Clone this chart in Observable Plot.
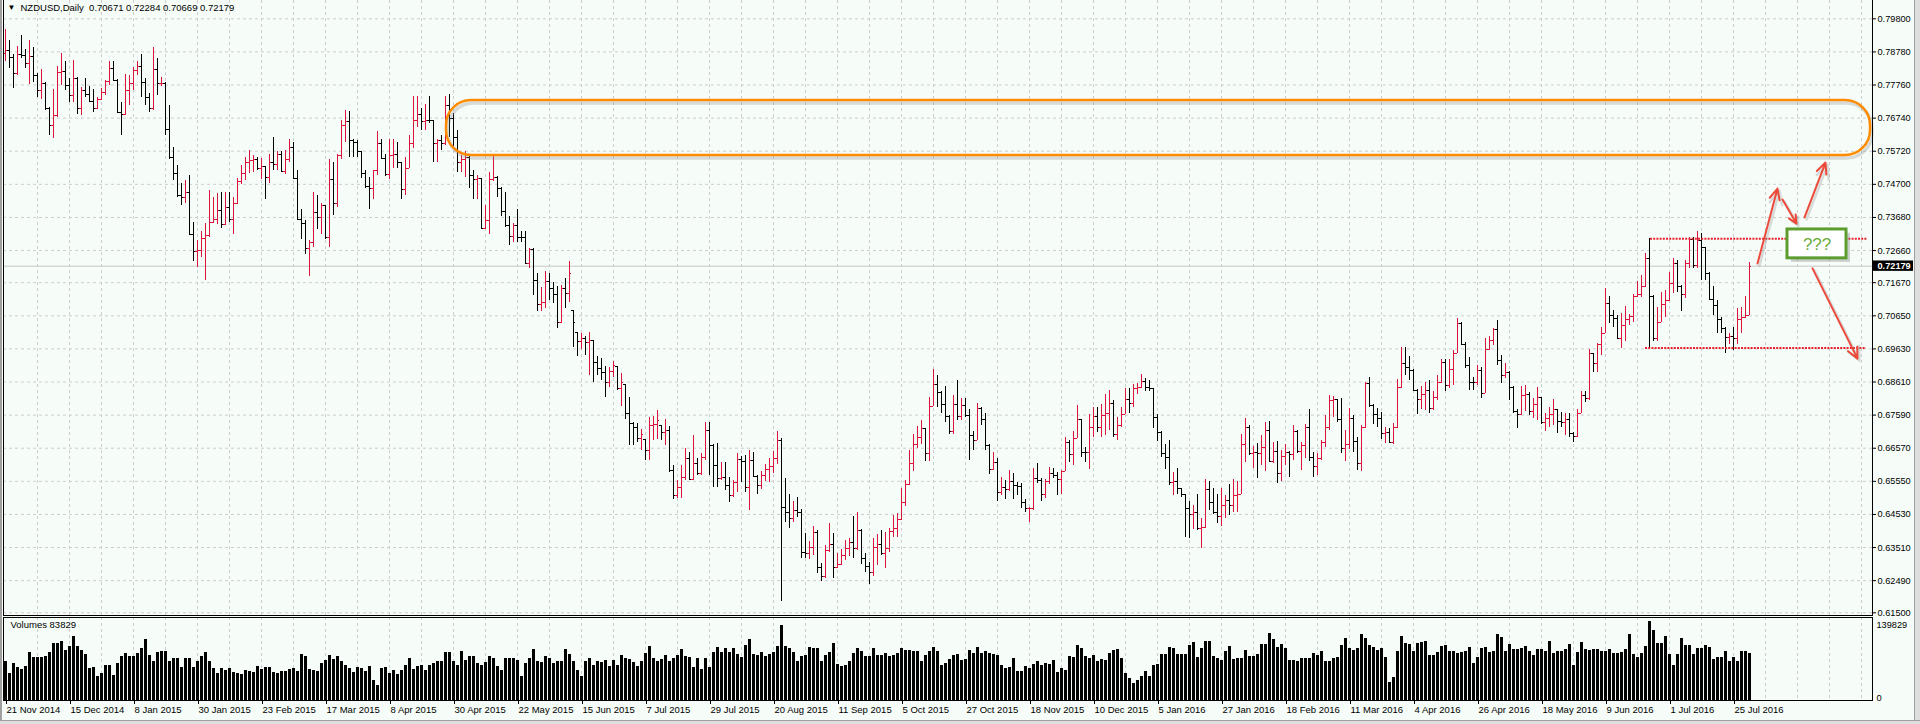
<!DOCTYPE html>
<html><head><meta charset="utf-8">
<script src="https://cdn.jsdelivr.net/npm/d3@7"></script>
<script src="https://cdn.jsdelivr.net/npm/@observablehq/plot@0.6"></script>
<style>
html,body{margin:0;padding:0;background:#e4e4e4;}
#wrap{position:relative;width:1920px;height:724px;overflow:hidden;background:#f6fdf9;}
#wrap svg{display:block;}
#edgeR{position:absolute;left:1914px;top:0;width:6px;height:724px;background:#dedede;border-left:1px solid #a0a0a0;}
#edgeB{position:absolute;left:0;top:720px;width:1920px;height:4px;background:#dedede;border-top:1px solid #a0a0a0;}
#edgeL{position:absolute;left:0;top:0;width:2px;height:720px;background:#a0a0a0;}
</style></head><body><div id="wrap"></div>
<script>
const symbol = "NZDUSD", timeframe = "Daily";
const opens = [.7872,.7882,.7861,.7810,.7870,.7867,.7841,.7864,.7805,.7758,
.7782,.7704,.7650,.7681,.7815,.7818,.7775,.7743,.7797,.7704,
.7758,.7747,.7725,.7704,.7730,.7754,.7787,.7826,.7790,.7691,
.7685,.7758,.7780,.7821,.7833,.7784,.7737,.7704,.7823,.7780,
.7782,.7639,.7552,.7502,.7437,.7429,.7444,.7316,.7264,.7266,
.7302,.7312,.7352,.7361,.7389,.7345,.7400,.7361,.7410,.7480,
.7502,.7536,.7543,.7545,.7520,.7525,.7491,.7536,.7530,.7563,
.7510,.7547,.7585,.7487,.7362,.7348,.7271,.7290,.7384,.7367,
.7405,.7307,.7484,.7410,.7560,.7652,.7665,.7605,.7600,.7570,
.7502,.7463,.7458,.7512,.7595,.7549,.7499,.7559,.7563,.7536,
.7453,.7520,.7595,.7668,.7684,.7663,.7668,.7668,.7595,.7605,
.7595,.7713,.7672,.7615,.7536,.7545,.7554,.7497,.7484,.7487,
.7334,.7360,.7484,.7490,.7458,.7387,.7343,.7309,.7343,.7307,
.7305,.7225,.7268,.7174,.7100,.7105,.7170,.7148,.7130,.7045,
.7148,.7133,.7081,.7015,.6986,.6994,.6984,.6989,.6922,.6902,
.6890,.6861,.6892,.6909,.6840,.6853,.6763,.6734,.6722,.6686,
.6685,.6650,.6727,.6730,.6727,.6707,.6712,.6588,.6511,.6537,
.6566,.6624,.6561,.6609,.6578,.6628,.6712,.6665,.6604,.6563,
.6566,.6542,.6511,.6552,.6621,.6617,.6535,.6619,.6570,.6542,
.6573,.6590,.6600,.6624,.6680,.6475,.6460,.6440,.6465,.6460,
.6337,.6332,.6350,.6398,.6291,.6262,.6342,.6360,.6291,.6300,
.6327,.6347,.6368,.6347,.6404,.6318,.6294,.6275,.6352,.6360,
.6332,.6347,.6401,.6410,.6437,.6489,.6544,.6609,.6667,.6691,
.6719,.6640,.6786,.6852,.6830,.6791,.6755,.6709,.6791,.6755,
.6789,.6758,.6696,.6680,.6778,.6745,.6665,.6590,.6614,.6522,
.6535,.6530,.6555,.6542,.6540,.6491,.6470,.6472,.6565,.6558,
.6516,.6555,.6580,.6573,.6560,.6585,.6674,.6637,.6686,.6745,
.6643,.6643,.6720,.6755,.6722,.6758,.6765,.6796,.6700,.6727,
.6760,.6806,.6794,.6840,.6845,.6862,.6845,.6840,.6753,.6706,
.6640,.6627,.6552,.6555,.6534,.6514,.6472,.6452,.6460,.6409,
.6412,.6530,.6491,.6460,.6448,.6482,.6495,.6480,.6510,.6514,
.6667,.6722,.6640,.6645,.6640,.6660,.6713,.6617,.6648,.6578,
.6632,.6645,.6638,.6708,.6648,.6666,.6720,.6627,.6600,.6625,
.6676,.6722,.6804,.6806,.6744,.6655,.6669,.6748,.6678,.6610,
.6722,.6855,.6789,.6760,.6750,.6703,.6705,.6676,.6722,.6843,
.6917,.6907,.6897,.6835,.6806,.6823,.6835,.6778,.6813,.6861,
.6922,.6849,.6900,.6948,.7042,.6978,.6912,.6861,.6858,.6897,
.6825,.6960,.6988,.7022,.6926,.6881,.6890,.6845,.6771,.6761,
.6820,.6822,.6771,.6792,.6812,.6737,.6750,.6762,.6775,.6740,
.6736,.6745,.6701,.6694,.6763,.6820,.6809,.6950,.6917,.6977,
.7011,.7102,.7066,.7056,.6994,.7035,.7053,.7063,.7125,.7130,
.7155,.7240,.7123,.6995,.7045,.7100,.7112,.7164,.7227,.7155,
.7130,.7227,.7300,.7219,.7297,.7274,.7196,.7115,.7096,.7053,
.7025,.6997,.7000,.6994,.7053,.7060,.70671];
const highs = [.7946,.7913,.7869,.7895,.7929,.7884,.7913,.7893,.7810,.7824,
.7784,.7706,.7762,.7834,.7872,.7847,.7795,.7852,.7798,.7769,
.7795,.7771,.7762,.7737,.7764,.7790,.7847,.7847,.7792,.7723,
.7808,.7805,.7831,.7848,.7869,.7795,.7749,.7893,.7859,.7800,
.7784,.7712,.7584,.7528,.7472,.7481,.7497,.7352,.7297,.7325,
.7350,.7451,.7430,.7443,.7444,.7444,.7444,.7428,.7487,.7528,
.7554,.7574,.7559,.7554,.7551,.7525,.7563,.7613,.7570,.7570,
.7574,.7609,.7600,.7514,.7392,.7360,.7297,.7446,.7436,.7410,
.7405,.7547,.7536,.7563,.7668,.7698,.7694,.7609,.7605,.7570,
.7514,.7491,.7514,.7633,.7609,.7563,.7609,.7609,.7600,.7536,
.7554,.7619,.7742,.7742,.7703,.7716,.7742,.7668,.7609,.7619,
.7742,.7747,.7687,.7636,.7559,.7570,.7556,.7514,.7497,.7487,
.7405,.7508,.7563,.7495,.7461,.7446,.7371,.7348,.7394,.7326,
.7326,.7271,.7271,.7194,.7153,.7202,.7194,.7167,.7156,.7158,
.7181,.7232,.7081,.7015,.7010,.7000,.7015,.6989,.6939,.6933,
.6909,.6907,.6925,.6909,.6886,.6853,.6814,.6737,.6732,.6714,
.6685,.6753,.6755,.6773,.6727,.6744,.6724,.6604,.6558,.6604,
.6655,.6645,.6696,.6624,.6640,.6737,.6737,.6670,.6673,.6614,
.6614,.6568,.6558,.6640,.6632,.6635,.6650,.6645,.6573,.6585,
.6606,.6624,.6647,.6709,.6688,.6563,.6514,.6494,.6506,.6468,
.6393,.6370,.6417,.6404,.6301,.6357,.6424,.6393,.6332,.6345,
.6373,.6378,.6447,.6460,.6406,.6332,.6306,.6378,.6390,.6404,
.6396,.6409,.6450,.6455,.6532,.6558,.6650,.6698,.6725,.6743,
.6719,.6814,.6900,.6881,.6832,.6848,.6757,.6821,.6866,.6809,
.6811,.6776,.6709,.6794,.6784,.6763,.6667,.6645,.6624,.6568,
.6558,.6588,.6578,.6552,.6547,.6499,.6475,.6594,.6609,.6563,
.6560,.6599,.6596,.6582,.6588,.6691,.6681,.6709,.6789,.6745,
.6660,.6760,.6784,.6784,.6791,.6824,.6835,.6805,.6753,.6784,
.6840,.6840,.6852,.6855,.6883,.6873,.6866,.6840,.6760,.6709,
.6670,.6681,.6581,.6594,.6534,.6514,.6494,.6480,.6514,.6440,
.6560,.6554,.6532,.6514,.6534,.6511,.6544,.6560,.6555,.6698,
.6750,.6727,.6662,.6671,.6696,.6737,.6740,.6676,.6679,.6650,
.6669,.6648,.6727,.6713,.6676,.6730,.6776,.6645,.6640,.6681,
.6758,.6820,.6817,.6806,.6811,.6712,.6778,.6758,.6689,.6727,
.6861,.6874,.6792,.6778,.6768,.6722,.6717,.6734,.6868,.6968,
.6968,.6940,.6899,.6837,.6847,.6861,.6866,.6833,.6881,.6929,
.6929,.6929,.6958,.7056,.7045,.6984,.6938,.6876,.6912,.6907,
.6994,.7001,.7025,.7052,.6943,.6917,.6894,.6847,.6775,.6847,
.6850,.6830,.6809,.6843,.6812,.6763,.6781,.6806,.6775,.6768,
.6765,.6763,.6707,.6775,.6833,.6833,.6960,.6950,.6981,.7028,
.7148,.7123,.7081,.7066,.7071,.7094,.7068,.7130,.7171,.7189,
.7258,.7302,.7128,.7090,.7138,.7143,.7199,.7240,.7235,.7158,
.7235,.7305,.7305,.7326,.7318,.7276,.7199,.7155,.7112,.7061,
.7028,.7011,.7030,.7086,.7090,.7123,.72284];
const lows = [.7847,.7826,.7766,.7805,.7857,.7826,.7777,.7785,.7737,.7732,
.7699,.7620,.7610,.7677,.7775,.7758,.7721,.7721,.7685,.7681,
.7737,.7721,.7691,.7702,.7729,.7743,.7775,.7788,.7689,.7620,
.7683,.7712,.7758,.7805,.7737,.7712,.7691,.7699,.7743,.7770,
.7620,.7548,.7481,.7429,.7405,.7412,.7314,.7233,.7215,.7244,
.7174,.7305,.7348,.7345,.7333,.7343,.7352,.7316,.7408,.7470,
.7481,.7502,.7508,.7514,.7484,.7424,.7474,.7514,.7514,.7508,
.7500,.7536,.7484,.7360,.7299,.7254,.7187,.7276,.7330,.7317,
.7299,.7276,.7373,.7400,.7547,.7600,.7554,.7554,.7554,.7487,
.7458,.7392,.7424,.7497,.7547,.7495,.7484,.7520,.7520,.7424,
.7436,.7520,.7579,.7646,.7636,.7636,.7656,.7536,.7536,.7574,
.7590,.7615,.7585,.7508,.7508,.7491,.7458,.7424,.7424,.7332,
.7332,.7317,.7480,.7431,.7371,.7336,.7282,.7292,.7292,.7292,
.7223,.7212,.7128,.7078,.7078,.7087,.7113,.7102,.7025,.7040,
.7087,.7107,.6967,.6939,.6960,.6943,.6881,.6861,.6881,.6866,
.6814,.6845,.6876,.6835,.6787,.6747,.6665,.6665,.6676,.6650,
.6619,.6619,.6681,.6683,.6681,.6665,.6583,.6498,.6501,.6501,
.6558,.6558,.6558,.6573,.6573,.6619,.6573,.6537,.6537,.6558,
.6527,.6491,.6506,.6522,.6552,.6522,.6465,.6568,.6514,.6529,
.6555,.6550,.6578,.6606,.6185,.6429,.6409,.6429,.6445,.6318,
.6316,.6314,.6327,.6270,.6245,.6257,.6337,.6257,.6285,.6296,
.6311,.6322,.6316,.6342,.6298,.6275,.6236,.6263,.6296,.6327,
.6287,.6337,.6383,.6383,.6435,.6478,.6542,.6585,.6655,.6670,
.6616,.6616,.6786,.6784,.6763,.6737,.6699,.6699,.6743,.6743,
.6753,.6619,.6650,.6680,.6727,.6650,.6575,.6588,.6494,.6511,
.6499,.6523,.6499,.6511,.6470,.6458,.6429,.6465,.6547,.6494,
.6502,.6544,.6563,.6511,.6514,.6585,.6614,.6604,.6686,.6627,
.6612,.6593,.6691,.6705,.6691,.6696,.6712,.6691,.6681,.6722,
.6760,.6763,.6784,.6824,.6840,.6832,.6832,.6719,.6678,.6627,
.6593,.6542,.6511,.6514,.6506,.6383,.6380,.6407,.6404,.6347,
.6411,.6465,.6452,.6424,.6417,.6440,.6450,.6460,.6460,.6514,
.6612,.6634,.6594,.6563,.6604,.6586,.6614,.6611,.6547,.6553,
.6604,.6566,.6619,.6640,.6588,.6624,.6616,.6566,.6573,.6619,
.6660,.6712,.6751,.6737,.6640,.6616,.6652,.6645,.6588,.6585,
.6717,.6783,.6729,.6720,.6683,.6671,.6673,.6669,.6717,.6840,
.6881,.6866,.6833,.6760,.6775,.6773,.6763,.6773,.6804,.6855,
.6831,.6840,.6850,.6948,.6976,.6902,.6835,.6835,.6850,.6809,
.6825,.6958,.6972,.6912,.6857,.6871,.6804,.6765,.6717,.6758,
.6771,.6758,.6748,.6742,.6730,.6710,.6722,.6727,.6703,.6722,
.6696,.6689,.6676,.6689,.6763,.6799,.6804,.6891,.6891,.6943,
.7009,.7040,.7030,.6991,.6963,.6987,.7035,.7045,.7120,.7120,
.7153,.6966,.6985,.6987,.7045,.7061,.7110,.7135,.7138,.7079,
.7117,.7212,.7212,.7212,.7174,.7174,.7112,.7066,.7011,.7011,
.6950,.6977,.6958,.6977,.7009,.7058,.70669];
const closes = [.7882,.7861,.7810,.7870,.7867,.7841,.7864,.7805,.7758,.7782,
.7704,.7650,.7681,.7815,.7818,.7775,.7743,.7797,.7704,.7758,
.7747,.7725,.7704,.7730,.7754,.7787,.7826,.7790,.7691,.7685,
.7758,.7780,.7821,.7833,.7784,.7737,.7704,.7823,.7780,.7782,
.7639,.7552,.7502,.7437,.7429,.7444,.7316,.7264,.7266,.7302,
.7312,.7352,.7361,.7389,.7345,.7400,.7361,.7410,.7480,.7502,
.7536,.7543,.7545,.7520,.7525,.7491,.7536,.7530,.7563,.7510,
.7547,.7585,.7487,.7362,.7348,.7271,.7290,.7384,.7367,.7405,
.7307,.7484,.7410,.7560,.7652,.7665,.7605,.7600,.7570,.7502,
.7463,.7458,.7512,.7595,.7549,.7499,.7559,.7563,.7536,.7453,
.7520,.7595,.7668,.7684,.7663,.7668,.7668,.7595,.7605,.7595,
.7713,.7672,.7615,.7536,.7545,.7554,.7497,.7484,.7487,.7334,
.7360,.7484,.7490,.7458,.7387,.7343,.7309,.7343,.7307,.7305,
.7225,.7268,.7174,.7100,.7105,.7170,.7148,.7130,.7045,.7148,
.7133,.7194,.7045,.6986,.6994,.6984,.6990,.6922,.6902,.6890,
.6861,.6892,.6912,.6840,.6860,.6763,.6734,.6722,.6686,.6700,
.6650,.6727,.6730,.6742,.6707,.6712,.6588,.6511,.6537,.6566,
.6624,.6561,.6609,.6578,.6628,.6712,.6665,.6604,.6563,.6566,
.6542,.6511,.6552,.6621,.6617,.6535,.6619,.6570,.6542,.6573,
.6590,.6600,.6624,.6680,.6475,.6460,.6440,.6465,.6460,.6337,
.6332,.6350,.6398,.6291,.6262,.6342,.6360,.6291,.6300,.6327,
.6347,.6368,.6347,.6404,.6318,.6294,.6275,.6352,.6360,.6332,
.6347,.6401,.6410,.6437,.6489,.6544,.6609,.6667,.6691,.6719,
.6640,.6786,.6852,.6830,.6791,.6755,.6709,.6791,.6755,.6789,
.6758,.6696,.6680,.6778,.6745,.6665,.6590,.6614,.6522,.6535,
.6530,.6555,.6542,.6540,.6491,.6470,.6472,.6565,.6558,.6516,
.6555,.6580,.6573,.6560,.6585,.6674,.6637,.6686,.6745,.6643,
.6643,.6720,.6755,.6722,.6758,.6765,.6796,.6700,.6727,.6760,
.6806,.6794,.6840,.6845,.6862,.6845,.6840,.6753,.6706,.6640,
.6627,.6552,.6555,.6534,.6514,.6472,.6452,.6460,.6409,.6412,
.6530,.6491,.6460,.6448,.6482,.6495,.6480,.6510,.6514,.6667,
.6722,.6640,.6645,.6640,.6660,.6713,.6617,.6648,.6578,.6632,
.6645,.6638,.6708,.6648,.6666,.6720,.6627,.6600,.6625,.6676,
.6722,.6804,.6807,.6744,.6655,.6669,.6748,.6678,.6610,.6722,
.6855,.6789,.6760,.6750,.6703,.6705,.6676,.6722,.6843,.6917,
.6907,.6897,.6835,.6806,.6823,.6835,.6778,.6813,.6861,.6922,
.6849,.6900,.6948,.7042,.6978,.6912,.6861,.6858,.6897,.6825,
.6960,.6988,.7022,.6926,.6881,.6890,.6845,.6771,.6761,.6820,
.6822,.6771,.6792,.6812,.6737,.6750,.6762,.6775,.6740,.6736,
.6745,.6701,.6694,.6763,.6820,.6809,.6950,.6917,.6977,.7011,
.7102,.7066,.7056,.6994,.7035,.7053,.7063,.7125,.7130,.7155,
.7240,.7123,.6995,.7045,.7100,.7112,.7164,.7227,.7155,.7130,
.7227,.7300,.7219,.7297,.7274,.7196,.7115,.7096,.7053,.7025,
.6997,.7000,.6994,.7053,.7060,.7067,.72179];
const volumes = [68400,47600,65500,57700,55300,59500,85100,75600,75600,76200,77400,85100,101200,101200,104100,89300,95200,113100,95200,89300,81500,56500,57700,41700,47600,61300,62500,44600,65500,77400,83300,78500,77400,
83300,92200,107100,80300,69600,85100,87500,86300,68400,74400,74400,57700,74400,74400,57700,68400,77400,85100,68400,56500,47600,56500,53600,56500,49400,47600,45800,53600,50600,49400,59500,55300,
57700,57700,49400,47600,50600,51800,54700,56500,51800,81500,77400,55300,53600,51800,65500,71400,80300,73200,77400,69600,61300,56500,49400,57700,56500,50600,59500,35700,26800,56500,57700,47600,53600,45800,53600,62500,74400,55300,59500,62500,53600,62500,65500,68400,68400,85100,85100,68400,62500,86300,71400,77400,77400,65500,62500,67200,77400,74400,59500,53600,74400,74400,74400,71400,42800,65500,74400,91000,68400,67200,77400,74400,65500,
69600,69600,91000,81500,68400,53600,42800,69600,74400,62500,69600,67200,71400,59500,71400,62500,80300,74400,73200,67200,59500,68400,83300,95200,74400,69600,73200,80300,69600,74400,80300,91000,77400,75600,57700,74400,55300,74400,57700,85100,93400,85100,92200,85100,92200,81500,75600,98200,107100,81500,80300,85100,77400,81500,85100,95200,132100,95200,92200,85100,68400,77400,80300,93400,92200,92200,68400,80300,85100,101200,63700,59500,62500,68400,83300,92200,87500,77400,78500,92200,
79100,79100,83300,77400,79100,83300,92200,89300,89300,87500,87500,68400,80300,87500,93400,86300,62500,65500,73200,80300,81500,71400,73200,89300,83300,93400,83300,86300,83300,81500,80300,61300,56500,57700,74400,50600,50600,59500,56500,63700,69600,62500,65500,63700,71400,49400,56500,53600,77900,76800,98200,92200,77400,74400,80300,68400,73200,71400,83300,89300,91000,74400,47600,38700,29800,35700,41700,50600,41700,62500,63700,81500,81500,93400,92200,81500,81500,81500,98200,102900,75600,92200,104100,104100,77400,74400,71400,
86300,95200,73200,74400,74400,89300,77400,77400,81500,99400,99400,117800,107100,93400,99400,92200,71400,71400,69600,74400,74400,74400,
83300,79100,86300,68400,69600,74400,75600,98200,108900,92200,89300,92200,117200,108900,98200,93400,89300,92200,75600,32700,39900,86300,113100,101200,99400,86300,101200,102900,104100,79100,79100,85100,95200,98200,86300,87500,83300,85100,87500,93400,65500,75600,92200,93400,85100,87500,116000,111300,86300,99400,91000,91000,92200,95200,86300,80300,91000,91000,86300,104100,83300,86300,87500,91000,99400,62500,85100,102900,91000,89300,91000,91000,86300,87500,91000,83300,83300,85100,91000,117200,81500,75600,83300,95200,139829,123200,101200,101200,113100,81500,61300,81500,108900,98200,98200,81500,92200,92200,98200,93400,73200,75600,75600,86300,68400,75600,69600,86300,86300,83829];
const priceTicks = [0.615,0.6249,0.6351,0.6453,0.6555,0.6657,0.6759,0.6861,0.6963,0.7065,0.7167,0.7266,0.7368,0.747,0.7572,0.7674,0.7776,0.7878,0.798];
const dateLabels = ["21 Nov 2014","15 Dec 2014","8 Jan 2015","30 Jan 2015","23 Feb 2015","17 Mar 2015","8 Apr 2015","30 Apr 2015","22 May 2015","15 Jun 2015","7 Jul 2015","29 Jul 2015","20 Aug 2015","11 Sep 2015","5 Oct 2015","27 Oct 2015","18 Nov 2015","10 Dec 2015","5 Jan 2016","27 Jan 2016","18 Feb 2016","11 Mar 2016","4 Apr 2016","26 Apr 2016","18 May 2016","9 Jun 2016","1 Jul 2016","25 Jul 2016"];
const dateBars = [0,16,32,48,64,80,96,112,128,144,160,176,192,208,224,240,256,272,288,304,320,336,352,368,384,400,416,432];
const gridBars = d3.range(8, 472, 8);
const volMax = 139829;
// annotations (bar index, price)
const zone = [{x1: 110.25, x2: 466.25, y1: 0.7559, y2: 0.7728}];
const rangeLines = [{y: 0.7302, x1: 411.25, x2: 465.5}, {y: 0.6966, x1: 410, x2: 465.25}];
const arrows = [
  {x1: 438, y1: 0.7226, x2: 443, y2: 0.7457},
  {x1: 444.25, y1: 0.7423, x2: 447.75, y2: 0.7349},
  {x1: 449.75, y1: 0.7368, x2: 455, y2: 0.7537},
  {x1: 451.75, y1: 0.7211, x2: 463, y2: 0.6933}
];
const qbox = [{x1: 445.5, x2: 460.25, y1: 0.7242, y2: 0.7331, tx: 452.9, ty: 0.7286, label: "???"}];
const lastPrice = closes[closes.length - 1];
const priceTag = [{x1: 467, x2: 477, y1: lastPrice - 0.0016, y2: lastPrice + 0.0016, tx: 468, price: lastPrice}];

const bars = closes.map((c, i) => ({i, o: opens[i], h: highs[i], l: lows[i], c}));
const upBars = bars.filter(d => d.c > d.o), downBars = bars.filter(d => d.c <= d.o);
const vols = volumes.map((v, i) => ({i, v}));
const BULL = "#dc143c", BEAR = "#000000";
const font = "'Liberation Sans', Arial, sans-serif";
const xScale = {type: "linear", domain: [0, 436], range: [5, 1749], axis: null};
const gridStyle = {stroke: "#cdcdcd", strokeDasharray: "3,3"};
const last = bars[bars.length - 1];
const f5 = v => v.toFixed(5);
const title = `${symbol},${timeframe}\u00a0\u00a0${f5(last.o)} ${f5(last.h)} ${f5(last.l)} ${f5(last.c)}`;

function barMarks(data, color) {
  return [
    Plot.ruleX(data, {x: "i", y1: "l", y2: "h", stroke: color, shapeRendering: "crispEdges"}),
    Plot.ruleY(data, {y: "o", x1: d => d.i - 0.5, x2: "i", stroke: color, shapeRendering: "crispEdges"}),
    Plot.ruleY(data, {y: "c", x1: "i", x2: d => d.i + 0.5, stroke: color, shapeRendering: "crispEdges"})
  ];
}

const price = Plot.plot({
  width: 1920, height: 616,
  marginLeft: 3, marginRight: 48, marginTop: 0, marginBottom: 1,
  style: {background: "transparent", fontFamily: font, fontSize: "9.2px", color: "#000"},
  x: xScale,
  y: {type: "linear", domain: [0.615, 0.798], range: [612.3, 18.3], axis: null},
  marks: [
    Plot.ruleY(priceTicks, {...gridStyle}),
    Plot.ruleX(gridBars, {...gridStyle}),
    Plot.ruleY([lastPrice], {stroke: "#c6c6c6"}),
    ...barMarks(downBars, BEAR),
    ...barMarks(upBars, BULL),
    Plot.ruleY(rangeLines, {y: "y", x1: "x1", x2: "x2", stroke: "#e8222c", strokeWidth: 2, strokeDasharray: "2,1.2"}),
    Plot.rect(zone, {x1: "x1", x2: "x2", y1: "y1", y2: "y2", rx: 25, fill: "none", stroke: "#8a8a8a", strokeOpacity: 0.3, strokeWidth: 3.5, dx: 2, dy: 3}),
    Plot.rect(zone, {x1: "x1", x2: "x2", y1: "y1", y2: "y2", rx: 25, fill: "none", stroke: "#ff8c00", strokeWidth: 2.5}),
    Plot.arrow(arrows, {x1: "x1", y1: "y1", x2: "x2", y2: "y2", stroke: "#8a8a8a", strokeOpacity: 0.3, strokeWidth: 2.5, headLength: 9, headAngle: 50, dx: 2, dy: 2}),
    Plot.arrow(arrows, {x1: "x1", y1: "y1", x2: "x2", y2: "y2", stroke: "#ec4b3c", strokeWidth: 2, headLength: 9, headAngle: 50}),
    Plot.rect(qbox, {x1: "x1", x2: "x2", y1: "y1", y2: "y2", fill: "#7a7a7a", fillOpacity: 0.35, dx: 4, dy: 4}),
    Plot.rect(qbox, {x1: "x1", x2: "x2", y1: "y1", y2: "y2", fill: "white", stroke: "#5c9e2e", strokeWidth: 3}),
    Plot.text(qbox, {x: "tx", y: "ty", text: "label", fill: "#6aab3c", fontSize: 17, fontFamily: font}),
    Plot.axisY({anchor: "right", ticks: priceTicks, tickFormat: f5, tickSize: 3, tickPadding: 2, label: null, fontSize: 9.2}),
    Plot.rect(priceTag, {x1: "x1", x2: "x2", y1: "y1", y2: "y2", fill: "#000"}),
    Plot.text(priceTag, {x: "tx", y: "price", text: d => f5(d.price), fill: "#fff", textAnchor: "start", fontWeight: "bold", fontSize: 9.2}),
    Plot.frame({stroke: "#000", insetTop: -3}),
    Plot.text(["\u25BC"], {frameAnchor: "top-left", dx: 4, dy: 7, lineAnchor: "middle", textAnchor: "start", fontSize: 8, fill: "#000"}),
    Plot.text([title], {frameAnchor: "top-left", dx: 17, dy: 7, lineAnchor: "middle", textAnchor: "start", fill: "#000", fontSize: 9.5})
  ]
});

const vol = Plot.plot({
  width: 1920, height: 104,
  marginLeft: 3, marginRight: 48, marginTop: 1, marginBottom: 20,
  style: {background: "transparent", fontFamily: font, fontSize: "9.2px", color: "#000"},
  x: xScale,
  y: {type: "linear", domain: [0, volMax], range: [84, 5], axis: null},
  marks: [
    Plot.ruleX(gridBars, {...gridStyle}),
    Plot.rect(vols, {x1: d => d.i - 0.25, x2: d => d.i + 0.5, y1: () => 0, y2: "v", fill: "#000", shapeRendering: "crispEdges"}),
    Plot.frame({stroke: "#000"}),
    Plot.axisX({anchor: "bottom", ticks: dateBars, tickFormat: (d, i) => dateLabels[i], tickSize: 4, tickPadding: 2, textAnchor: "start", dx: 1, label: null, fontSize: 9.5}),
    Plot.text([volMax], {y: d => d, text: d => String(d), frameAnchor: "right", dx: 4, textAnchor: "start", lineAnchor: "top"}),
    Plot.text([0], {y: d => d, text: d => String(d), frameAnchor: "right", dx: 4, textAnchor: "start", lineAnchor: "bottom"}),
    Plot.text([`Volumes ${volumes[volumes.length - 1]}`], {frameAnchor: "top-left", dx: 7, dy: 4, lineAnchor: "top", textAnchor: "start", fontSize: 9.5})
  ]
});

const wrap = document.getElementById("wrap");
wrap.append(price, vol);
for (const id of ["edgeR", "edgeB", "edgeL"]) {
  const d = document.createElement("div");
  d.id = id;
  wrap.append(d);
}
</script>
</body></html>
